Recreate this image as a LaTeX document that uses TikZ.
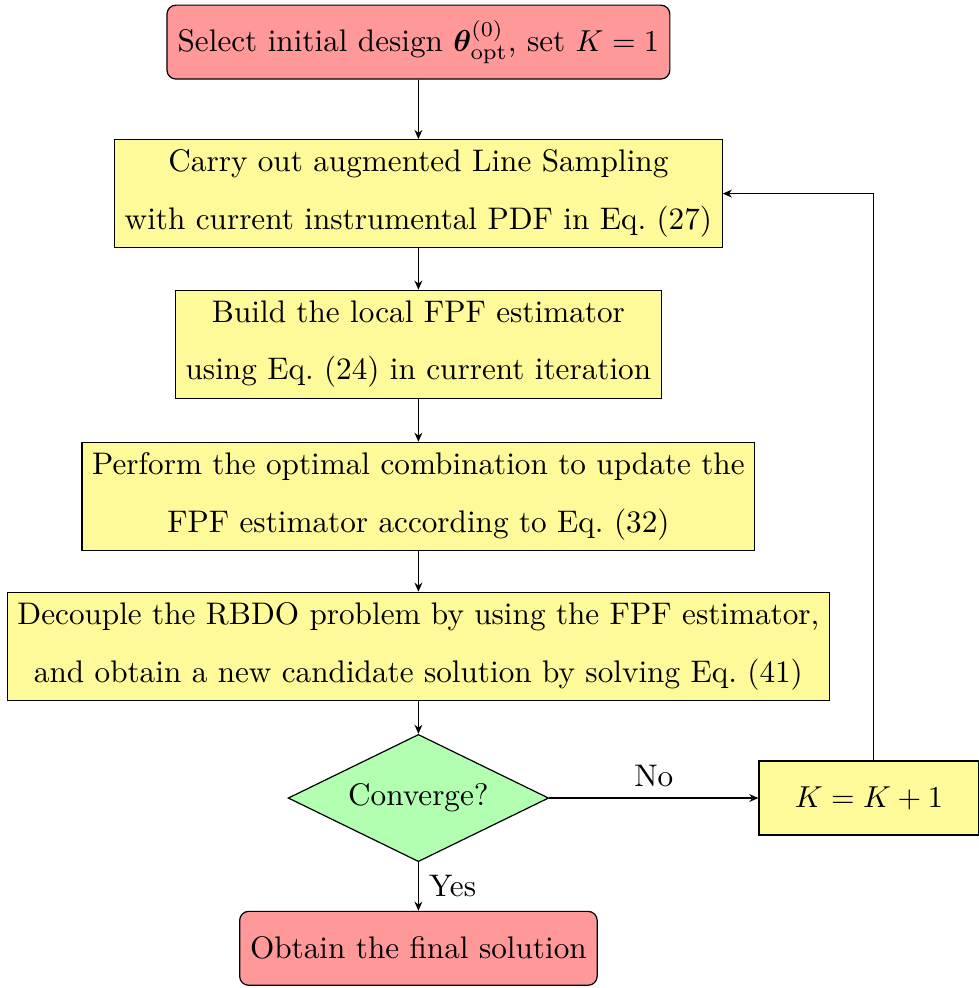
\documentclass[tikz,border=0pt]{standalone}
\usepackage{amsmath,amssymb,bm}
\usepackage{tikz}
\usetikzlibrary{arrows.meta,positioning,shapes.geometric}

\begin{document}
\begin{tikzpicture}[
  font=\fontsize{10.3pt}{19pt}\selectfont,
  startstop/.style={draw,rounded corners=3pt,fill=red!40,align=center,
                    minimum height=24.4pt},
  process/.style={draw,fill=yellow!40,align=center,minimum height=35.6pt},
  decision/.style={draw,diamond,aspect=2,fill=green!30,align=center,
                   minimum width=86pt,minimum height=42pt,inner sep=1pt},
  flow/.style={-{Stealth[length=3pt,width=2.6pt]},line width=0.4pt}]
  \useasboundingbox (-138.1pt,-312.2pt) rectangle (185pt,13.9pt);
  \node[startstop,minimum width=166pt] (init) at (0,0)
    {Select initial design $\bm{\theta}^{(0)}_{\text{opt}}$, set $K=1$};
  \node[process,minimum width=200pt,below=19.6pt of init] (ls)
    {Carry out augmented Line Sampling\\with current instrumental PDF in Eq.~(27)};
  \node[process,minimum width=160.4pt,below=13.7pt of ls] (local)
    {Build the local FPF estimator\\using Eq.~(24) in current iteration};
  \node[process,minimum width=222pt,below=14.2pt of local] (comb)
    {Perform the optimal combination to update the\\FPF estimator according to Eq.~(32)};
  \node[process,minimum width=271pt,below=13.5pt of comb] (decoup)
    {Decouple the RBDO problem by using the FPF estimator,\\and obtain a new candidate solution by solving Eq.~(41)};
  \node[decision,below=10.9pt of decoup] (conv) {Converge?};
  \node[process,minimum width=72.6pt,minimum height=24.4pt,right=69pt of conv] (incr) {$K=K+1$};
  \node[startstop,minimum width=118pt,below=16pt of conv] (final) {Obtain the final solution};

  \draw[flow] (init) -- (ls);
  \draw[flow] (ls) -- (local);
  \draw[flow] (local) -- (comb);
  \draw[flow] (comb) -- (decoup);
  \draw[flow] (decoup) -- (conv);
  \draw[flow] (conv) -- node[above] {No} (incr);
  \draw[flow] (conv) -- node[right] {Yes} (final);
  \draw[flow] ([xshift=1.6pt]incr.north) |- (ls.east);
\end{tikzpicture}
\end{document}
